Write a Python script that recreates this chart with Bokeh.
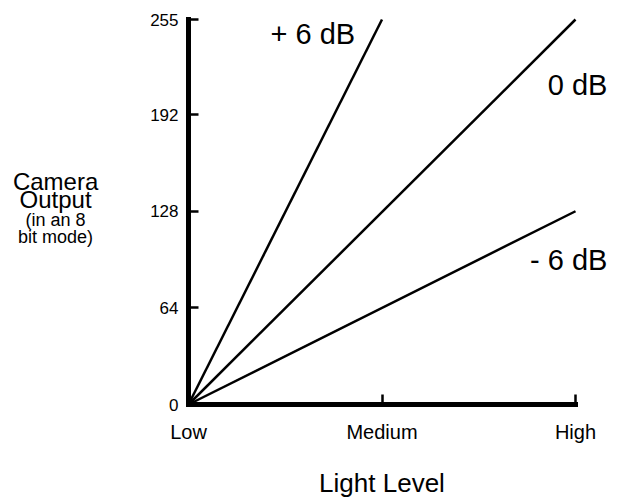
from bokeh.plotting import figure
from bokeh.models import FixedTicker, Label, Range1d
from bokeh.embed import file_html
from bokeh.resources import INLINE

# ---- data ----
light_ticks = [0, 1, 2]
light_labels = ["Low", "Medium", "High"]
output_ticks = [0, 64, 128, 192, 255]

series_names = ["+ 6 dB", "0 dB", "- 6 dB"]
plus6_x = [0, 1]
plus6_y = [0, 255]
zero_x = [0, 2]
zero_y = [0, 255]
minus6_x = [0, 2]
minus6_y = [0, 128]

FONT = "Liberation Sans"

W, H = 622, 498
X0, X2 = 188.0, 575.0      # screen px of Low / High
Y0, Y255 = 404.0, 19.0     # screen px of 0 / 255
ppx = (X2 - X0) / 2.0
ppy = (Y0 - Y255) / 255.0

p = figure(width=W, height=H, output_backend="svg", toolbar_location=None,
           x_range=Range1d(-X0 / ppx, (W - X0) / ppx),
           y_range=Range1d(-(H - Y0) / ppy, 255 + Y255 / ppy),
           min_border=0, min_border_left=0, min_border_right=0,
           min_border_top=0, min_border_bottom=0)
p.outline_line_color = None
p.grid.visible = False
p.background_fill_color = "white"
p.border_fill_color = "white"

for xs, ys in [(plus6_x, plus6_y), (zero_x, zero_y), (minus6_x, minus6_y)]:
    p.line(xs, ys, line_color="black", line_width=2.5)

# axes
xa = p.xaxis[0]
xa.fixed_location = 0
xa.bounds = (0, 2)
xa.ticker = FixedTicker(ticks=light_ticks)
xa.major_label_overrides = {t: l for t, l in zip(light_ticks, light_labels)}
xa.minor_tick_line_color = None
xa.axis_line_width = 5
xa.axis_line_color = "black"
xa.axis_line_cap = "square"
xa.major_tick_in = 10
xa.major_tick_out = 0
xa.major_tick_line_width = 2.5
xa.major_label_text_font = FONT
xa.major_label_text_font_size = "20px"
xa.major_label_text_color = "black"
xa.major_label_standoff = 16
xa.axis_label = "Light Level"
xa.axis_label_text_font = FONT
xa.axis_label_text_font_size = "26px"
xa.axis_label_text_font_style = "normal"
xa.axis_label_text_color = "black"
xa.axis_label_standoff = 22

ya = p.yaxis[0]
ya.fixed_location = 0
ya.bounds = (0, 255)
ya.ticker = FixedTicker(ticks=output_ticks)
ya.minor_tick_line_color = None
ya.axis_line_width = 5
ya.axis_line_color = "black"
ya.axis_line_cap = "square"
ya.major_tick_in = 10
ya.major_tick_out = 0
ya.major_tick_line_width = 2.5
ya.major_label_text_font = FONT
ya.major_label_text_font_size = "17px"
ya.major_label_text_color = "black"
ya.major_label_standoff = 10

# series labels
def lab(x, y, text, size, align):
    p.add_layout(Label(x=x, y=y, text=text, text_font=FONT, text_font_size=size,
                       text_color="black", text_baseline="alphabetic",
                       text_align=align))

lab(0.424, 245.6, series_names[0], "29px", "left")
lab(2.165, 211.6, series_names[1], "29px", "right")
lab(2.165, 95.6, series_names[2], "29px", "right")

# y axis title (two sizes)
for txt, yy, fs in [("Camera", 148.0, "24px"), ("Output", 135.5, "24px"),
                    ("(in an 8", 122.0, "18px"), ("bit mode)", 110.8, "18px")]:
    lab(-0.687, yy, txt, fs, "center")

open("out.html", "w").write(file_html(p, INLINE))
